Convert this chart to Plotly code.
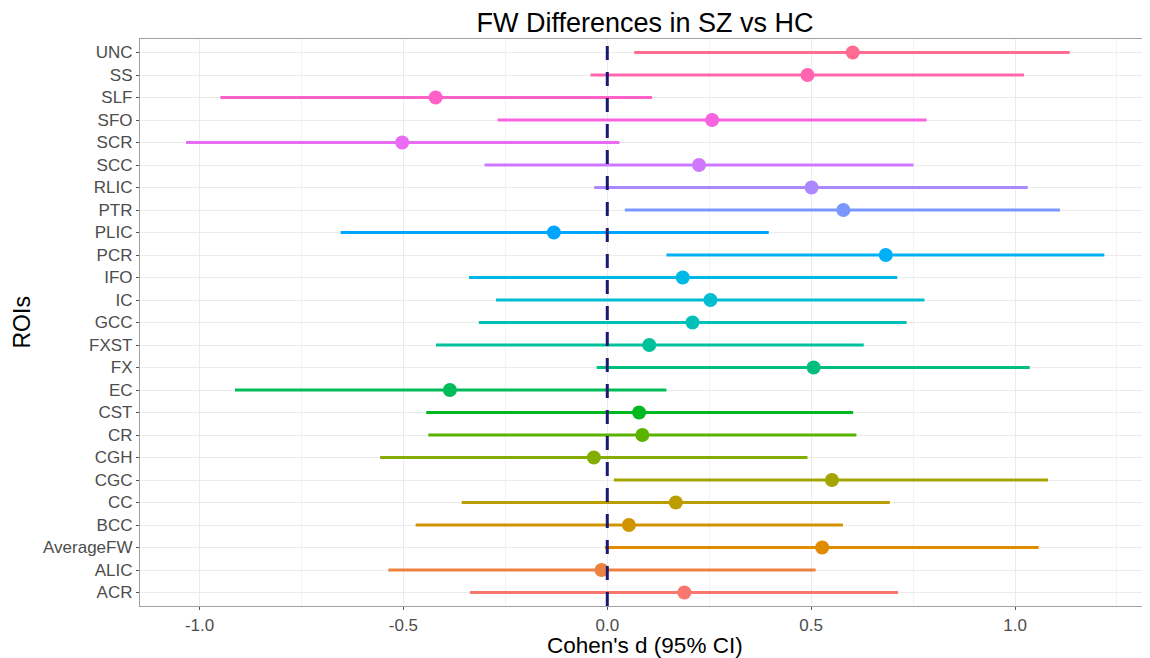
import math
import plotly.graph_objects as go

# ---- data (bottom -> top) ----
rois = ["ACR", "ALIC", "AverageFW", "BCC", "CC", "CGC", "CGH", "CR", "CST", "EC",
        "FX", "FXST", "GCC", "IC", "IFO", "PCR", "PLIC", "PTR", "RLIC", "SCC",
        "SCR", "SFO", "SLF", "SS", "UNC"]
cohens_d = [0.189, -0.014, 0.527, 0.053, 0.168, 0.551, -0.033, 0.086, 0.078, -0.386,
            0.506, 0.103, 0.209, 0.253, 0.185, 0.683, -0.131, 0.579, 0.501, 0.225,
            -0.503, 0.257, -0.421, 0.491, 0.602]
ci_low = [-0.337, -0.537, -0.006, -0.470, -0.357, 0.016, -0.557, -0.439, -0.444, -0.913,
          -0.026, -0.420, -0.315, -0.273, -0.339, 0.145, -0.654, 0.043, -0.032, -0.301,
          -1.033, -0.269, -0.949, -0.041, 0.066]
ci_high = [0.713, 0.511, 1.058, 0.578, 0.693, 1.081, 0.491, 0.611, 0.603, 0.145,
           1.036, 0.629, 0.734, 0.778, 0.711, 1.219, 0.396, 1.110, 1.031, 0.751,
           0.030, 0.783, 0.110, 1.022, 1.134]
x_ticks = [-1.0, -0.5, 0.0, 0.5, 1.0]
x_tick_labels = ["-1.0", "-0.5", "0.0", "0.5", "1.0"]


def hcl_hex(h, c=100.0, l=65.0):
    """ggplot2-style hue colour (polar LUV -> sRGB)."""
    xn, yn, zn = 95.047, 100.0, 108.883
    hr = math.radians(h)
    u = c * math.cos(hr)
    v = c * math.sin(hr)
    y = yn * ((l + 16) / 116) ** 3 if l > 8 else yn * l / 903.3
    den = xn + 15 * yn + 3 * zn
    un, vn = 4 * xn / den, 9 * yn / den
    up = u / (13 * l) + un
    vp = v / (13 * l) + vn
    x = y * 9 * up / (4 * vp)
    z = y * (12 - 3 * up - 20 * vp) / (4 * vp)
    x, y, z = x / 100, y / 100, z / 100
    r = 3.2404542 * x - 1.5371385 * y - 0.4985314 * z
    g = -0.9692660 * x + 1.8760108 * y + 0.0415560 * z
    b = 0.0556434 * x - 0.2040259 * y + 1.0572252 * z

    def gam(t):
        t = t * 12.92 if t <= 0.0031308 else 1.055 * t ** (1 / 2.4) - 0.055
        return max(0, min(255, round(t * 255)))
    return "#%02X%02X%02X" % (gam(r), gam(g), gam(b))


n = len(rois)
hues = [15 + 360 * i / n for i in range(n)]
colors = [hcl_hex(h) for h in hues]

FONT = "Liberation Sans, Arial, sans-serif"

fig = go.Figure()
for i, roi in enumerate(rois):
    fig.add_trace(go.Scatter(
        x=[cohens_d[i]], y=[roi], mode="markers",
        marker=dict(color=colors[i], size=14, line=dict(width=0)),
        error_x=dict(type="data", symmetric=False,
                     array=[ci_high[i] - cohens_d[i]],
                     arrayminus=[cohens_d[i] - ci_low[i]],
                     color=colors[i], thickness=3, width=0),
        showlegend=False, hoverinfo="x+y",
    ))

fig.add_shape(type="line", xref="x", yref="paper", x0=0, x1=0, y0=0, y1=1,
              line=dict(color="#191970", width=3, dash="14px,12px"), layer="above")

axis_common = dict(showline=True, linecolor="#A0A0A0", linewidth=1.2,
                   ticks="outside", ticklen=3, tickcolor="#555555", tickwidth=1,
                   gridcolor="#EBEBEB", gridwidth=1.1, zeroline=False,
                   tickfont=dict(family=FONT, size=17, color="#4D4D4D"))

# panel is cropped on the right in the reference: no right border line
fig.update_xaxes(range=[-1.146, 1.331], tickmode="array", tickvals=x_ticks,
                 ticktext=x_tick_labels, mirror=True,
                 minor=dict(dtick=0.25, tick0=0, showgrid=True, gridcolor="#F3F3F3",
                            gridwidth=0.8, ticks=""),
                 **axis_common)
fig.update_yaxes(type="category", categoryorder="array", categoryarray=rois,
                 range=[-0.6, n - 1 + 0.6], automargin=False, mirror=False, **axis_common)

# page body has an 8px margin: figure placed so the plot panel lands at
# x 140..1150 and y 39..606 of the page
fig.update_layout(
    width=1142, height=650,
    margin=dict(l=132, r=0, t=31, b=52, autoexpand=False),
    paper_bgcolor="white", plot_bgcolor="white",
    font=dict(family=FONT, color="black"),
    title=dict(text="FW Differences in SZ vs HC", x=0.5, xref="paper",
               xanchor="center", y=1 - 15 / 650, yref="container", yanchor="middle",
               font=dict(size=27, color="black")),
    annotations=[
        dict(text="Cohen's d (95% CI)", xref="paper", yref="paper",
             x=0.5, y=0,
             yshift=-39, yanchor="middle", xanchor="center", showarrow=False,
             font=dict(size=22.5, color="black")),
        dict(text="ROIs", xref="paper", yref="paper", x=0, y=0.5, xshift=-119,
             textangle=-90, xanchor="center", yanchor="middle", showarrow=False,
             font=dict(size=23, color="black")),
    ],
)

fig.write_html("out.html")
